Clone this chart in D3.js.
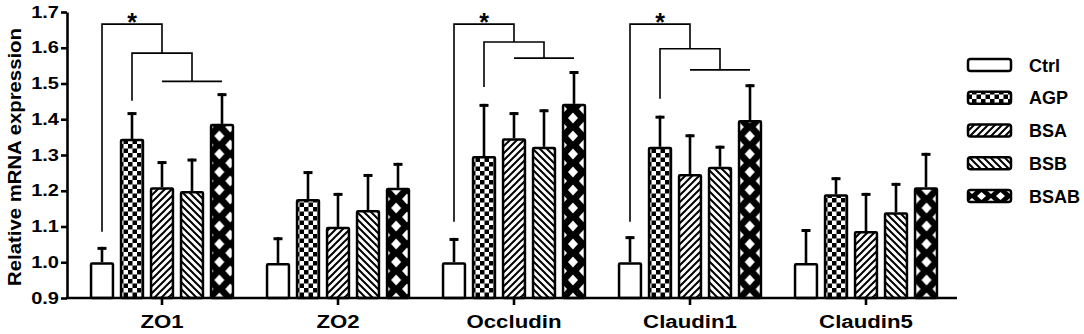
<!DOCTYPE html>
<html><head><meta charset="utf-8">
<script src="https://cdn.jsdelivr.net/npm/d3@7"></script>
<style>
body{margin:0;background:#fff}
text{font-family:"Liberation Sans",Arial,sans-serif;font-weight:bold;fill:#000}
</style>
</head><body>
<svg id="chart" width="1084" height="334"></svg>
<script>
// ---------- data ----------
const categories = ["ZO1", "ZO2", "Occludin", "Claudin1", "Claudin5"];
const seriesNames = ["Ctrl", "AGP", "BSA", "BSB", "BSAB"];
const ctrlMean = [1.000, 0.998, 1.000, 1.000, 0.998];
const agpMean  = [1.345, 1.177, 1.297, 1.323, 1.190];
const bsaMean  = [1.210, 1.099, 1.347, 1.247, 1.087];
const bsbMean  = [1.199, 1.146, 1.323, 1.267, 1.140];
const bsabMean = [1.387, 1.208, 1.443, 1.398, 1.210];
const ctrlErr  = [0.043, 0.072, 0.068, 0.073, 0.095];
const agpErr   = [0.075, 0.078, 0.146, 0.087, 0.048];
const bsaErr   = [0.073, 0.095, 0.073, 0.111, 0.107];
const bsbErr   = [0.091, 0.101, 0.105, 0.059, 0.082];
const bsabErr  = [0.086, 0.070, 0.092, 0.100, 0.096];
const yTicks = [0.9, 1.0, 1.1, 1.2, 1.3, 1.4, 1.5, 1.6, 1.7];
const yLabel = "Relative mRNA expression";
// significance brackets
const sigCategories = ["ZO1", "Occludin", "Claudin1"];
const bracketTop = [1.666, 1.666, 1.666];
const bracketMid = [1.585, 1.616, 1.597];
const bracketLow = [1.506, 1.571, 1.538];
const ctrlLegEnd = [1.085, 1.113, 1.113];
const agpLegEnd  = [1.452, 1.490, 1.457];
const sigMark = "*";

const means = [ctrlMean, agpMean, bsaMean, bsbMean, bsabMean];
const errs  = [ctrlErr, agpErr, bsaErr, bsbErr, bsabErr];

// ---------- layout ----------
const svg = d3.select("#chart");
const axisX = 67;
const y = d3.scaleLinear().domain([0.9, 1.7]).range([298, 12]);
const x0 = d3.scaleBand().domain(categories).range([74, 954]);
const x1 = d3.scaleBand().domain(seriesNames)
  .range([x0.bandwidth() / 2 - 75, x0.bandwidth() / 2 + 75])
  .paddingInner(0.27).paddingOuter(0.135);
const bw = x1.bandwidth();
const cx = (c, s) => x0(c) + x1(s) + bw / 2;

const defs = svg.append("defs");
// checkerboard
const chk = defs.append("pattern").attr("id", "pat-AGP")
  .attr("patternUnits", "userSpaceOnUse").attr("width", 9).attr("height", 9);
chk.append("rect").attr("width", 9).attr("height", 9).attr("fill", "#fff");
chk.append("rect").attr("width", 4.5).attr("height", 4.5).attr("fill", "#000");
chk.append("rect").attr("x", 4.5).attr("y", 4.5).attr("width", 4.5).attr("height", 4.5).attr("fill", "#000");
// forward hatch
const hf = defs.append("pattern").attr("id", "pat-BSA")
  .attr("patternUnits", "userSpaceOnUse").attr("width", 7).attr("height", 7);
hf.append("rect").attr("width", 7).attr("height", 7).attr("fill", "#fff");
hf.append("path").attr("d", "M0,7L7,0M-2,2L2,-2M5,9L9,5").attr("stroke", "#000").attr("stroke-width", 2);
// backward hatch
const hb = defs.append("pattern").attr("id", "pat-BSB")
  .attr("patternUnits", "userSpaceOnUse").attr("width", 7).attr("height", 7);
hb.append("rect").attr("width", 7).attr("height", 7).attr("fill", "#fff");
hb.append("path").attr("d", "M0,0L7,7M5,-2L9,2M-2,5L2,9").attr("stroke", "#000").attr("stroke-width", 2);

// BSAB diamond lattice, one per bar so edges align
function diamondPattern(id, px, py, w, h, hw, hh) {
  const p = defs.append("pattern").attr("id", id)
    .attr("patternUnits", "userSpaceOnUse")
    .attr("x", px).attr("y", py).attr("width", w).attr("height", h);
  p.append("rect").attr("width", w).attr("height", h).attr("fill", "#000");
  const centers = [[w / 2, h / 2], [0, 0], [w, 0], [0, h], [w, h]];
  p.selectAll("path").data(centers).join("path")
    .attr("d", d => `M${d[0] - hw},${d[1]}L${d[0]},${d[1] - hh}L${d[0] + hw},${d[1]}L${d[0]},${d[1] + hh}Z`)
    .attr("fill", "#fff");
}
categories.forEach((c, i) => diamondPattern("pat-BSAB-" + i, x0(c) + x1("BSAB"), y(0.9), bw, 18, 5, 5.6));

function fillFor(s, i) {
  if (s === "Ctrl") return "#fff";
  if (s === "BSAB") return `url(#pat-BSAB-${i})`;
  return `url(#pat-${s})`;
}

// ---------- bars ----------
const groups = svg.append("g").selectAll("g").data(categories).join("g")
  .attr("transform", c => `translate(${x0(c)},0)`);
groups.each(function (c, ci) {
  const g = d3.select(this);
  const rows = seriesNames.map((s, si) => ({ s, v: means[si][ci], e: errs[si][ci], ci }));
  g.selectAll("line.err").data(rows).join("line").attr("class", "err")
    .attr("x1", d => x1(d.s) + bw / 2).attr("x2", d => x1(d.s) + bw / 2)
    .attr("y1", d => y(d.v)).attr("y2", d => y(d.v + d.e))
    .attr("stroke", "#000").attr("stroke-width", 2.6);
  g.selectAll("line.cap").data(rows).join("line").attr("class", "cap")
    .attr("x1", d => x1(d.s) + bw / 2 - 4.5).attr("x2", d => x1(d.s) + bw / 2 + 4.5)
    .attr("y1", d => y(d.v + d.e) + 1.5).attr("y2", d => y(d.v + d.e) + 1.5)
    .attr("stroke", "#000").attr("stroke-width", 3);
  g.selectAll("rect").data(rows).join("rect")
    .attr("x", d => x1(d.s)).attr("width", bw)
    .attr("y", d => y(d.v) + 1.2).attr("height", d => y(0.9) - y(d.v) - 1.2)
    .attr("fill", d => fillFor(d.s, d.ci))
    .attr("stroke", "#000").attr("stroke-width", 2.5).attr("rx", 1);
});

// ---------- axes ----------
const yStretch = 1.25;
const yAxis = svg.append("g").attr("transform", `translate(${axisX},0)`)
  .call(d3.axisLeft(y).tickValues(yTicks).tickFormat(d3.format(".1f")).tickSize(6).tickSizeOuter(0));
yAxis.select(".domain").attr("stroke-width", 2.6);
yAxis.selectAll(".tick line").attr("stroke-width", 2.6);
yAxis.selectAll(".tick text").attr("x", -8 / yStretch).attr("font-size", 16)
  .attr("transform", `scale(${yStretch},1)`)
  .style("font-family", "'Liberation Sans',Arial,sans-serif").style("font-weight", "bold");

const xStretch = 1.17;
const xAxis = svg.append("g").attr("transform", `translate(0,${y(0.9)})`)
  .call(d3.axisBottom(x0).tickSize(7).tickSizeOuter(0));
xAxis.select(".domain").remove();
xAxis.append("line").attr("x1", axisX - 1).attr("x2", x0.range()[1] + 3)
  .attr("stroke", "#000").attr("stroke-width", 2.6);
xAxis.selectAll(".tick line").attr("stroke-width", 2.6);
xAxis.selectAll(".tick text").attr("y", 17).attr("font-size", 19)
  .attr("transform", `scale(${xStretch},1)`)
  .style("font-family", "'Liberation Sans',Arial,sans-serif").style("font-weight", "bold");

svg.append("text").attr("transform", `translate(21,${(y(0.9) + y(1.7)) / 2 + 2}) rotate(-90) scale(1.13,1)`)
  .attr("text-anchor", "middle").attr("font-size", 18).text(yLabel);

// ---------- significance brackets ----------
const br = svg.append("g").attr("fill", "none").attr("stroke", "#000").attr("stroke-width", 1.6);
sigCategories.forEach((c, i) => {
  const xc = cx(c, "Ctrl"), xa = cx(c, "AGP"), xs = cx(c, "BSA"), xb = cx(c, "BSB"), xd = cx(c, "BSAB");
  br.append("path").attr("d",
    `M${xc},${y(ctrlLegEnd[i])}V${y(bracketTop[i])}H${xs}V${y(bracketMid[i])}` +
    `M${xa},${y(agpLegEnd[i])}V${y(bracketMid[i])}H${xb}V${y(bracketLow[i])}` +
    `M${xs},${y(bracketLow[i])}H${xd}`);
  svg.append("text").attr("x", xa).attr("y", y(bracketTop[i]) + 7)
    .attr("text-anchor", "middle").attr("font-size", 25).text(sigMark);
});

// ---------- legend ----------
const ly = d3.scalePoint().domain(seriesNames).range([65, 196]);
const lg = svg.append("g");
seriesNames.forEach((s, i) => {
  const yy = ly(s);
  if (s === "BSAB") diamondPattern("pat-BSAB-legend", 972, yy - 6, 19, 12, 4.5, 4);
  lg.append("rect").attr("x", 968).attr("y", yy - 6).attr("width", 43).attr("height", 12)
    .attr("rx", 2.5)
    .attr("fill", s === "BSAB" ? "url(#pat-BSAB-legend)" : fillFor(s, 0))
    .attr("stroke", "#000").attr("stroke-width", 2.5);
  lg.append("text").attr("x", 1029).attr("y", yy + 6.5).attr("font-size", 18).text(s);
});
</script>
</body></html>
